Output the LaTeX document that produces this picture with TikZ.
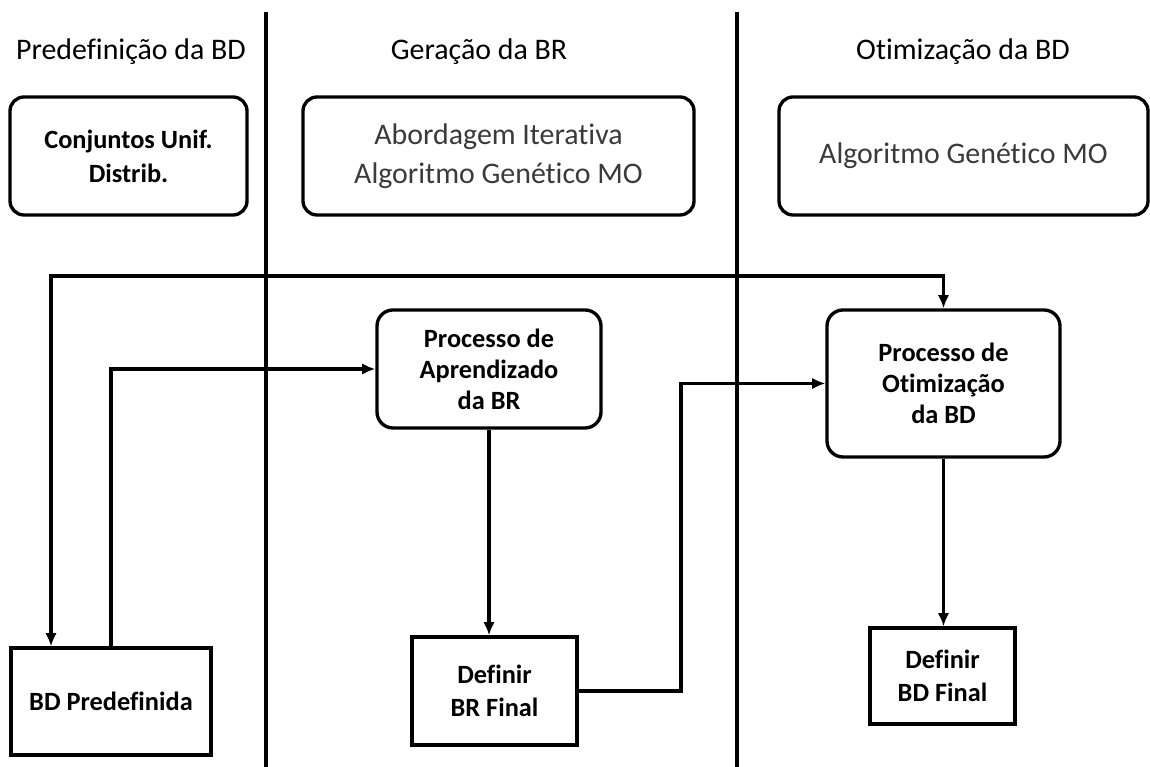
\documentclass[tikz,border=0pt]{standalone}
\usepackage{fontspec}
\setmainfont{Carlito}[Ligatures=NoCommon]
\usepackage{tikz}
\usetikzlibrary{positioning,calc,arrows.meta}
\usepackage{xcolor}
\definecolor{textgray}{RGB}{58,58,58}

\tikzset{
  lane/.style={line width=1.9pt},
  phase/.style={font=\fontsize{17}{20}\selectfont},
  method/.style={draw, line width=1.9pt, rounded corners=0.28cm, inner sep=0pt,
    align=center, text=textgray, font=\fontsize{17}{22}\selectfont},
  process/.style={draw, line width=1.9pt, rounded corners=0.32cm, inner sep=0pt,
    align=center, font=\bfseries\fontsize{15}{17.6}\selectfont},
  result/.style={draw, line width=1.9pt, inner sep=0pt,
    align=center, font=\bfseries\fontsize{15}{18.5}\selectfont},
  flow/.style={line width=1.9pt}
}

\begin{document}
\begin{tikzpicture}[>={Latex[length=7.5pt,width=6.5pt]}]
    \useasboundingbox (0cm, 0cm) rectangle (23cm, 15.34cm);

    % Lanes
    \draw[lane] (5.32cm, 15.10cm) -- (5.32cm, 0cm);
    \draw[lane] (14.74cm, 15.10cm) -- (14.74cm, 0cm);

    % Phases
    \node[phase] (predef) at (2.62cm, 14.30cm) {Predefinição da BD};
    \node[phase] (geracao) at (9.58cm, 14.30cm) {Geração da BR};
    \node[phase] (otim) at (19.26cm, 14.30cm) {Otimização da BD};

    % Methods
    \node[method, minimum width=4.74cm, minimum height=2.36cm, text=black,
      font=\bfseries\fontsize{15}{19.5}\selectfont]
      (conj) at (2.57cm, 12.22cm) {Conjuntos Unif.\\Distrib.};
    \node[method, minimum width=7.82cm, minimum height=2.36cm]
      (abord) at (9.97cm, 12.22cm) {Abordagem Iterativa\\Algoritmo Genético MO};
    \node[method, minimum width=7.38cm, minimum height=2.36cm]
      (agmo) at (19.27cm, 12.22cm) {Algoritmo Genético MO};

    % Processes
    \node[process, minimum width=4.48cm, minimum height=2.36cm]
      (aprend) at (9.78cm, 7.96cm) {Processo de\\Aprendizado\\da BR};
    \node[process, minimum width=4.66cm, minimum height=2.94cm]
      (otimiz) at (18.87cm, 7.67cm) {Processo de\\Otimização\\da BD};

    % Results
    \node[result, minimum width=4cm, minimum height=2.14cm]
      (bdpre) at (2.22cm, 1.31cm) {BD Predefinida};
    \node[result, minimum width=3.3cm, minimum height=2.16cm]
      (brfinal) at (9.89cm, 1.52cm) {Definir\\BR Final};
    \node[result, minimum width=2.9cm, minimum height=1.92cm]
      (bdfinal) at (18.85cm, 1.82cm) {Definir\\BD Final};

    % Flow
    \coordinate (top) at (1.02cm, 9.82cm);
    \coordinate (bend) at (13.62cm, 0cm);
    \draw[flow,<->] (bdpre.north -| top) -- (top) -| (otimiz.north);
    \draw[flow,->] (bdpre.north) |- (aprend.west);
    \draw[flow,->] (aprend.south) -- (aprend.south |- brfinal.north);
    \draw[flow,->] (brfinal.east) -| (bend |- otimiz.west) -- (otimiz.west);
    \draw[flow,->] (otimiz.south) -- (otimiz.south |- bdfinal.north);
\end{tikzpicture}
\end{document}
